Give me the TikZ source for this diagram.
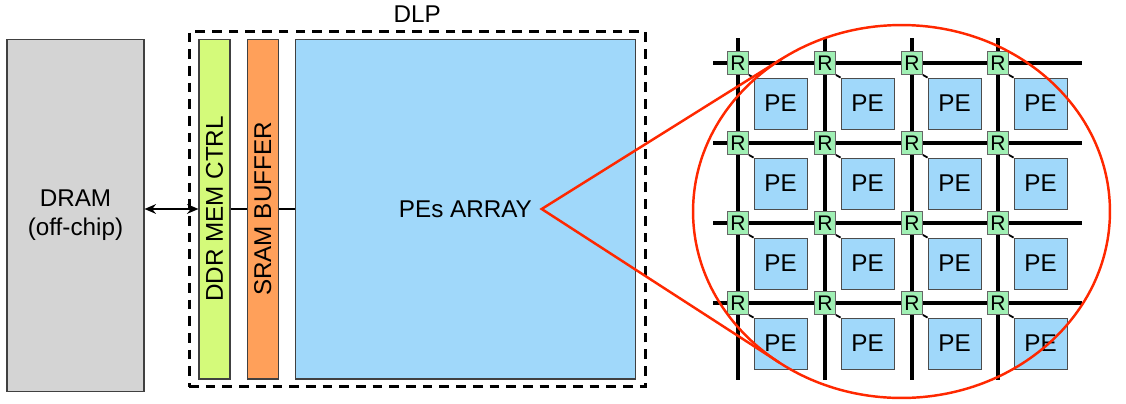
\documentclass[tikz,border=0pt]{standalone}
\usepackage{fontspec}
\setmainfont{Liberation Sans}
\usepackage{xcolor}
\usepackage{graphicx}
\usetikzlibrary{shapes.geometric, arrows.meta, positioning}
\definecolor{dramgray}{RGB}{212,212,212}
\definecolor{ctrllime}{RGB}{212,250,122}
\definecolor{bufforange}{RGB}{255,160,90}
\definecolor{pesblue}{RGB}{160,216,250}
\definecolor{routergreen}{RGB}{160,240,180}
\definecolor{zoomred}{RGB}{255,40,0}
\newcommand{\blockfont}{\fontsize{13.8}{16.5}\selectfont}
\newcommand{\routerfont}{\fontsize{12}{13}\selectfont}

\begin{document}
\begin{tikzpicture}[x=0.02cm, y=-0.02cm,
  block/.style={rectangle, draw=black!75, line width=0.6pt, inner sep=0pt, align=center, font=\blockfont},
  vblock/.style={block, minimum width=0.62cm, minimum height=6.8cm},
  dlpbox/.style={rectangle, draw, line width=1.8pt, dash pattern=on 5.5pt off 4pt, minimum width=9.13cm, minimum height=7.1cm, inner sep=0pt},
  link/.style={black, line width=0.6pt},
  biarrow/.style={{Stealth[length=6.5pt,width=5.5pt]}-{Stealth[length=6.5pt,width=5.5pt]}, black, line width=1.3pt},
  bus/.style={black, line width=2pt},
  router/.style={rectangle, draw=black!60, line width=0.5pt, fill=routergreen, minimum width=0.42cm, minimum height=0.46cm, inner sep=0pt, font=\routerfont},
  pe/.style={rectangle, draw=black!70, line width=0.5pt, fill=pesblue, minimum width=1.06cm, minimum height=1.02cm, inner sep=0pt, font=\blockfont},
  zoomline/.style={zoomred, line width=1.4pt}
]
\useasboundingbox (0,0) rectangle (1126,403);

\node[block, fill=dramgray, minimum width=2.74cm, minimum height=7.06cm] (dram) at (75.5,215.5) {DRAM\\(off-chip)};
\node[dlpbox] (dlp) at (417.3,209.2) {};
\node[font=\blockfont, above=1pt of dlp] (dlplabel) {DLP};
\node[vblock, fill=ctrllime] (ddr) at (214.5,209) {\rotatebox{90}{DDR MEM CTRL}};
\node[vblock, fill=bufforange] (sram) at (262.75,209) {\rotatebox{90}{SRAM BUFFER}};
\node[block, fill=pesblue, minimum width=6.81cm, minimum height=6.8cm] (pes) at (465.4,209) {PEs ARRAY};

\draw[biarrow] (dram.east |- ddr.west) -- (ddr.west);
\draw[link] (ddr.east) -- (sram.west);
\draw[link] (sram.east) -- (pes.west);

% mesh of routers and PEs
\foreach \r [count=\j] in {63,143,223,303} {
  \coordinate (w\j) at (713,\r);
  \coordinate (e\j) at (1082,\r);
  \draw[bus] (w\j) -- (e\j);
}
\foreach \c [count=\i] in {738,825,912,998} {
  \coordinate (n\i) at (\c,38);
  \coordinate (s\i) at (\c,380);
  \draw[bus] (n\i) -- (s\i);
}
\foreach \r [count=\j] in {63,143,223,303}
  \foreach \c [count=\i] in {738,825,912,998} {
    \node[router] (r\j\i) at (\c,\r) {R};
    \node[pe] (pe\j\i) at (\c+42.5,\r+40.5) {PE};
    \draw[link, line width=1pt] (r\j\i.south east) -- (pe\j\i.north west);
  }

% zoom
\node[ellipse, draw=zoomred, line width=1.4pt, minimum width=8.34cm, minimum height=7.46cm, inner sep=0pt, outer sep=0pt] (zoom) at (901.5,211.5) {};
\coordinate (apex) at (541.7,209);
\draw[zoomline] (zoom.128) -- (apex) -- (zoom.231);
\end{tikzpicture}
\end{document}
